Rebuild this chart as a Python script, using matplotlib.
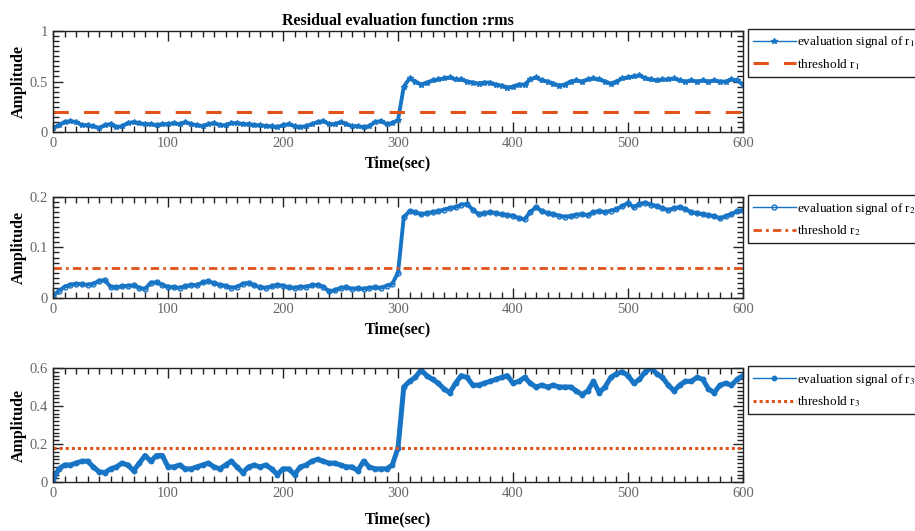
import matplotlib.pyplot as plt
import numpy as np
from matplotlib.ticker import MultipleLocator

plt.rcParams["font.family"] = ["Liberation Serif", "DejaVu Serif"]
plt.rcParams["mathtext.fontset"] = "stix"

# sample times (s), one value every 5 s
time_sec = np.arange(0, 601, 5)

signal_r1 = [
    0.04, 0.07, 0.10, 0.11, 0.10, 0.07, 0.07, 0.06, 0.04, 0.07,
    0.08, 0.05, 0.06, 0.09, 0.10, 0.09, 0.08, 0.08, 0.07, 0.08,
    0.08, 0.09, 0.08, 0.10, 0.08, 0.07, 0.06, 0.08, 0.09, 0.07,
    0.07, 0.09, 0.09, 0.08, 0.08, 0.07, 0.07, 0.06, 0.06, 0.05,
    0.07, 0.08, 0.06, 0.05, 0.06, 0.08, 0.10, 0.11, 0.08, 0.08,
    0.10, 0.08, 0.06, 0.06, 0.05, 0.06, 0.10, 0.11, 0.08, 0.09,
    0.12, 0.45, 0.53, 0.50, 0.47, 0.49, 0.51, 0.52, 0.53, 0.54,
    0.52, 0.52, 0.50, 0.49, 0.48, 0.49, 0.49, 0.47, 0.46, 0.44,
    0.45, 0.47, 0.47, 0.52, 0.54, 0.51, 0.50, 0.48, 0.46, 0.47,
    0.50, 0.51, 0.50, 0.52, 0.53, 0.52, 0.50, 0.48, 0.50, 0.53,
    0.54, 0.55, 0.56, 0.53, 0.52, 0.51, 0.52, 0.52, 0.53, 0.51,
    0.50, 0.51, 0.50, 0.51, 0.50, 0.51, 0.50, 0.50, 0.52, 0.51,
    0.47,
]
signal_r2 = [
    0.004, 0.014, 0.022, 0.026, 0.028, 0.027, 0.026, 0.028, 0.034, 0.035,
    0.022, 0.021, 0.023, 0.024, 0.025, 0.020, 0.018, 0.030, 0.031, 0.026,
    0.022, 0.021, 0.020, 0.023, 0.026, 0.025, 0.031, 0.033, 0.029, 0.026,
    0.024, 0.020, 0.022, 0.028, 0.030, 0.025, 0.021, 0.020, 0.023, 0.026,
    0.024, 0.021, 0.020, 0.022, 0.022, 0.025, 0.026, 0.022, 0.013, 0.015,
    0.020, 0.021, 0.018, 0.019, 0.018, 0.020, 0.021, 0.020, 0.024, 0.028,
    0.050, 0.160, 0.172, 0.170, 0.166, 0.168, 0.170, 0.172, 0.175, 0.178,
    0.180, 0.185, 0.186, 0.175, 0.166, 0.168, 0.170, 0.168, 0.166, 0.164,
    0.163, 0.158, 0.156, 0.170, 0.180, 0.172, 0.168, 0.166, 0.163, 0.161,
    0.162, 0.165, 0.166, 0.164, 0.170, 0.172, 0.170, 0.173, 0.176, 0.182,
    0.188, 0.180, 0.186, 0.189, 0.185, 0.182, 0.178, 0.174, 0.178, 0.180,
    0.176, 0.170, 0.168, 0.166, 0.164, 0.162, 0.158, 0.162, 0.166, 0.172,
    0.174,
]
signal_r3 = [
    0.01, 0.07, 0.09, 0.09, 0.10, 0.11, 0.11, 0.08, 0.055, 0.05,
    0.07, 0.08, 0.10, 0.09, 0.06, 0.10, 0.14, 0.11, 0.14, 0.14,
    0.08, 0.08, 0.09, 0.07, 0.07, 0.08, 0.09, 0.10, 0.08, 0.07,
    0.09, 0.11, 0.08, 0.05, 0.08, 0.09, 0.08, 0.09, 0.07, 0.04,
    0.07, 0.07, 0.04, 0.08, 0.09, 0.11, 0.12, 0.11, 0.10, 0.10,
    0.09, 0.08, 0.08, 0.06, 0.11, 0.08, 0.07, 0.07, 0.07, 0.09,
    0.18, 0.50, 0.53, 0.55, 0.59, 0.56, 0.54, 0.52, 0.49, 0.47,
    0.52, 0.56, 0.55, 0.51, 0.51, 0.52, 0.53, 0.54, 0.55, 0.56,
    0.52, 0.53, 0.55, 0.52, 0.50, 0.51, 0.50, 0.51, 0.50, 0.50,
    0.50, 0.48, 0.46, 0.48, 0.53, 0.47, 0.50, 0.55, 0.57, 0.58,
    0.56, 0.52, 0.54, 0.58, 0.60, 0.57, 0.55, 0.51, 0.48, 0.51,
    0.53, 0.53, 0.55, 0.54, 0.49, 0.47, 0.51, 0.52, 0.51, 0.54,
    0.56,
]

thresholds = [0.2, 0.06, 0.18]
y_limits = [(0, 1), (0, 0.2), (0, 0.6)]
y_ticks = [[0, 0.5, 1], [0, 0.1, 0.2], [0, 0.2, 0.4, 0.6]]
y_tick_labels = [["0", "0.5", "1"], ["0", "0.1", "0.2"], ["0", "0.2", "0.4", "0.6"]]
y_minor = [0.05, 0.01, 0.02]

SIGNAL_COLOR = "#1874C4"
THRESH_COLOR = "#E2531A"

panels = [
    dict(values=signal_r1, marker="*", mfc=SIGNAL_COLOR, ms=4.0, lw=2.8,
         ls_thr=(0, (5, 5)), lw_thr=2.2, labelpad=4),
    dict(values=signal_r2, marker="o", mfc="none", ms=3.5, lw=2.8,
         ls_thr=(0, (3, 1.5, 1, 1.5)), lw_thr=2.0, labelpad=4),
    dict(values=signal_r3, marker="o", mfc=SIGNAL_COLOR, ms=3.2, lw=3.6,
         ls_thr=(0, (1, 1)), lw_thr=2.2, labelpad=8),
]
positions = [
    [0.058, 0.751, 0.754, 0.191],
    [0.058, 0.439, 0.754, 0.190],
    [0.058, 0.092, 0.754, 0.215],
]

fig = plt.figure(figsize=(9.15, 5.31), dpi=100)

for index, panel in enumerate(panels):
    ax = fig.add_axes(positions[index])
    sub = index + 1
    ax.plot(
        time_sec, panel["values"],
        color=SIGNAL_COLOR, linewidth=panel["lw"],
        marker=panel["marker"], markersize=panel["ms"],
        markerfacecolor=panel["mfc"], markeredgecolor=SIGNAL_COLOR, markeredgewidth=1.0,
        label=f"evaluation signal of r$_{sub}$",
    )
    ax.axhline(thresholds[index], color=THRESH_COLOR, linestyle=panel["ls_thr"],
               linewidth=panel["lw_thr"], label=f"threshold r$_{sub}$")

    ax.set_xlim(0, 600)
    ax.set_ylim(*y_limits[index])
    ax.set_xticks([0, 100, 200, 300, 400, 500, 600])
    ax.set_yticks(y_ticks[index])
    ax.set_yticklabels(y_tick_labels[index])
    ax.xaxis.set_minor_locator(MultipleLocator(10))
    ax.yaxis.set_minor_locator(MultipleLocator(y_minor[index]))
    ax.tick_params(which="both", direction="in", top=True, right=True,
                   labelsize=10.5, labelcolor="#666666", width=1.0, color="#222222")
    ax.tick_params(which="major", length=7)
    ax.tick_params(which="minor", length=4)
    for spine in ax.spines.values():
        spine.set_linewidth(1.0)
        spine.set_color("#222222")

    ax.set_xlabel("Time(sec)", fontsize=11.5, fontweight="bold", labelpad=panel["labelpad"])
    ax.set_ylabel("Amplitude", fontsize=11.5, fontweight="bold", labelpad=2)

    bbox = positions[index]
    legend = ax.legend(
        loc="upper left", bbox_to_anchor=(0.8175, bbox[1] + bbox[3] + 0.003),
        bbox_transform=fig.transFigure, fontsize=9.5, frameon=True, fancybox=False,
        edgecolor="#222222", framealpha=1, numpoints=1, handlelength=3.2,
        handletextpad=0.1, borderpad=0.4, labelspacing=0.5, borderaxespad=0,
    )
    legend.get_frame().set_linewidth(1.0)
    legend.get_lines()[0].set_linewidth(1.0)

    if index == 0:
        ax.set_title("Residual evaluation function :rms", fontsize=11.5,
                     fontweight="bold", pad=4)

fig.savefig("out.png", dpi=100)
plt.close(fig)
